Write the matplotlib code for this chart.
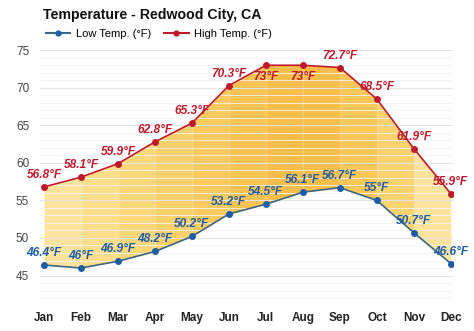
import numpy as np
import matplotlib.pyplot as plt

plt.rcParams["font.family"] = ["Liberation Sans", "DejaVu Sans"]

months = ["Jan", "Feb", "Mar", "Apr", "May", "Jun", "Jul", "Aug", "Sep", "Oct", "Nov", "Dec"]
high = [56.8, 58.1, 59.9, 62.8, 65.3, 70.3, 73, 73, 72.7, 68.5, 61.9, 55.9]
low = [46.4, 46, 46.9, 48.2, 50.2, 53.2, 54.5, 56.1, 56.7, 55, 50.7, 46.6]

# fill colour for each month-to-month band
band_colors = ["#FDE49E", "#FDDE8B", "#FDD87A", "#FCD16B", "#FCCA5E", "#FBC352",
               "#FBBE4A", "#FBBE4B", "#FCC758", "#FCD36E", "#FDE49E"]

high_color = "#BE1A2C"
low_color = "#1C5DA6"

fig = plt.figure(figsize=(4.74, 3.31), dpi=100)
ax = fig.add_axes([0.085, 0.095, 0.87, 0.76])

x = np.arange(len(months))
for i in range(len(months) - 1):
    ax.fill_between(x[i:i + 2], low[i:i + 2], high[i:i + 2],
                    color=band_colors[i], linewidth=0, zorder=1)

ax.plot(x, high, color=high_color, lw=1.2, marker="o", ms=4, zorder=3)
ax.plot(x, low, color="#3B6684", lw=1.2, marker="o", ms=4,
        mfc=low_color, mec=low_color, zorder=3)

lab_font = dict(fontsize=8.6, fontweight="bold", style="italic", ha="center")
for i, v in enumerate(high):
    if v >= 73:
        ax.text(x[i], v - 0.7, f"{v:g}°F", color=high_color, va="top", **lab_font)
    else:
        ax.text(x[i], v + 0.8, f"{v:g}°F", color=high_color, va="bottom", **lab_font)
for i, v in enumerate(low):
    ax.text(x[i], v + 0.8, f"{v:g}°F", color=low_color, va="bottom", **lab_font)

ax.set_xlim(-0.1, 11.05)
ax.set_ylim(41.8, 75.3)
ax.set_yticks([45, 50, 55, 60, 65, 70, 75])
ax.set_yticks(np.arange(42, 76, 1), minor=True)
ax.set_xticks(x)
ax.set_xticklabels(months, fontsize=8.5, fontweight="bold", color="#222222")
ax.tick_params(axis="y", labelsize=8.5, colors="#444444", length=0, which="both", pad=8)
ax.tick_params(axis="x", length=0, pad=9)
ax.grid(axis="y", which="major", color="#E4E4E4", lw=0.8, zorder=0)
ax.grid(axis="y", which="minor", color="#F3F3F3", lw=0.6, zorder=0)
for s in ax.spines.values():
    s.set_visible(False)

fig.text(0.09, 0.955, "Temperature - Redwood City, CA", fontsize=10.2,
         fontweight="bold", color="#111111", va="center")
ax.plot([], [], color="#3B6684", marker="o", ms=3.5, mfc=low_color, mec=low_color,
        label="Low Temp. (°F)")
ax.plot([], [], color=high_color, marker="o", ms=3.5, label="High Temp. (°F)")
fig.legend(loc="center left", bbox_to_anchor=(0.075, 0.897), ncol=2, frameon=False,
           fontsize=8, handlelength=2.2, columnspacing=1.2, handletextpad=0.5)

fig.savefig("out.png", dpi=100)
